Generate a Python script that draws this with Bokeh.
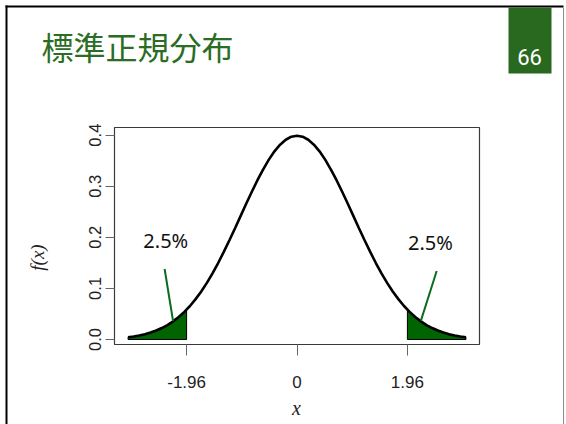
from bokeh.plotting import figure
from bokeh.models import Range1d, FixedTicker, Label, BoxAnnotation, LinearAxis
from bokeh.embed import file_html
from bokeh.resources import INLINE
from bokeh.core.properties import value

# ---------------- data ----------------
title_text = "標準正規分布"
slide_number = "66"

x_vals = [-3.0, -2.9, -2.8, -2.7, -2.6, -2.5, -2.4, -2.3, -2.2, -2.1,
          -2.0, -1.9, -1.8, -1.7, -1.6, -1.5, -1.4, -1.3, -1.2, -1.1,
          -1.0, -0.9, -0.8, -0.7, -0.6, -0.5, -0.4, -0.3, -0.2, -0.1,
          0.0, 0.1, 0.2, 0.3, 0.4, 0.5, 0.6, 0.7, 0.8, 0.9,
          1.0, 1.1, 1.2, 1.3, 1.4, 1.5, 1.6, 1.7, 1.8, 1.9,
          2.0, 2.1, 2.2, 2.3, 2.4, 2.5, 2.6, 2.7, 2.8, 2.9, 3.0]
density = [0.0044, 0.0060, 0.0079, 0.0104, 0.0136, 0.0175, 0.0224, 0.0283, 0.0355, 0.0440,
           0.0540, 0.0656, 0.0790, 0.0940, 0.1109, 0.1295, 0.1497, 0.1714, 0.1942, 0.2179,
           0.2420, 0.2661, 0.2897, 0.3123, 0.3332, 0.3521, 0.3683, 0.3814, 0.3910, 0.3970,
           0.3989, 0.3970, 0.3910, 0.3814, 0.3683, 0.3521, 0.3332, 0.3123, 0.2897, 0.2661,
           0.2420, 0.2179, 0.1942, 0.1714, 0.1497, 0.1295, 0.1109, 0.0940, 0.0790, 0.0656,
           0.0540, 0.0440, 0.0355, 0.0283, 0.0224, 0.0175, 0.0136, 0.0104, 0.0079, 0.0060, 0.0044]

critical_values = [-1.96, 1.96]
critical_density = 0.0584

tail_label = "2.5%"
tail_label_x = [-2.33, 2.37]
tail_label_y = [0.194, 0.190]
pointer_x0 = [-2.35, 2.48]
pointer_y0 = [0.138, 0.134]
pointer_x1 = [-2.20, 2.20]
pointer_y1 = [0.036, 0.037]

x_ticks = [-1.96, 0, 1.96]
x_tick_labels = ["-1.96", "0", "1.96"]
y_ticks = [0.0, 0.1, 0.2, 0.3, 0.4]
y_tick_labels = ["0.0", "0.1", "0.2", "0.3", "0.4"]
x_axis_label = "x"
y_axis_label = "f(x)"

# plot limits (as in the R plot) and where that plot box sits on the slide (px)
xlim = (-3.24, 3.24)
ylim = (-0.0098, 0.415)
W, H = 566, 424
BOX_L, BOX_R, BOX_T, BOX_B = 114, 479, 127, 344

kx = (BOX_R - BOX_L) / (xlim[1] - xlim[0])
ky = (BOX_B - BOX_T) / (ylim[1] - ylim[0])
x_range = Range1d(xlim[0] - BOX_L / kx, xlim[1] + (W - BOX_R) / kx)
y_range = Range1d(ylim[0] - (H - BOX_B) / ky, ylim[1] + BOX_T / ky)

p = figure(width=W, height=H, output_backend="svg", toolbar_location=None,
           x_range=x_range, y_range=y_range,
           x_axis_location=None, y_axis_location=None,
           min_border=0, min_border_left=0, min_border_right=0,
           min_border_top=0, min_border_bottom=0)
p.grid.visible = False
p.background_fill_color = "white"
p.border_fill_color = "white"
p.outline_line_color = None

# R-style plot box
p.quad(left=[xlim[0]], right=[xlim[1]], bottom=[ylim[0]], top=[ylim[1]],
       fill_color=None, line_color="#3a3a3a", line_width=1.2)

# axes pinned to the plot box edges
xa = LinearAxis(fixed_location=ylim[0])
xa.ticker = FixedTicker(ticks=x_ticks)
xa.major_label_overrides = {t: l for t, l in zip(x_ticks, x_tick_labels)}
xa.axis_line_color = None
xa.major_tick_out = 11
xa.major_tick_in = 0
xa.major_tick_line_color = "#666666"
xa.minor_tick_line_color = None
xa.major_label_text_font = "Liberation Sans"
xa.major_label_text_font_size = "17px"
xa.major_label_text_color = "#222222"
xa.major_label_standoff = 20
p.add_layout(xa, "below")

ya = LinearAxis(fixed_location=xlim[0])
ya.ticker = FixedTicker(ticks=y_ticks)
ya.major_label_overrides = {t: l for t, l in zip(y_ticks, y_tick_labels)}
ya.major_label_orientation = "vertical"
ya.axis_line_color = None
ya.major_tick_out = 9
ya.major_tick_in = 0
ya.major_tick_line_color = "#666666"
ya.minor_tick_line_color = None
ya.major_label_text_font = "Liberation Sans"
ya.major_label_text_font_size = "16.5px"
ya.major_label_text_color = "#222222"
ya.major_label_standoff = 4
p.add_layout(ya, "left")

# shaded tails
left_x = [x for x in x_vals if x <= critical_values[0]]
left_y = [y for x, y in zip(x_vals, density) if x <= critical_values[0]]
p.patch(left_x + [critical_values[0], critical_values[0], left_x[0]],
        left_y + [critical_density, 0, 0],
        fill_color="#006400", line_color="black", line_width=1)
right_x = [x for x in x_vals if x >= critical_values[1]]
right_y = [y for x, y in zip(x_vals, density) if x >= critical_values[1]]
p.patch([critical_values[1], critical_values[1]] + right_x + [right_x[-1]],
        [0, critical_density] + right_y + [0],
        fill_color="#006400", line_color="black", line_width=1)

# density curve
p.line(x_vals, density, line_color="black", line_width=2.6)

# pointers and labels
p.segment(x0=pointer_x0, y0=pointer_y0, x1=pointer_x1, y1=pointer_y1,
          line_color="#0b6b1e", line_width=2)
p.text(x=tail_label_x, y=tail_label_y, text=[tail_label, tail_label],
       text_font=value("Noto Sans"), text_font_size="20px", text_color="#111111",
       text_align="center", text_baseline="middle")

# ---------------- slide decorations (screen px; frame == whole canvas) ----------------
def sy(py):
    return H - py


def box(l, r, t, b, color):
    p.add_layout(BoxAnnotation(left=l, right=r, top=sy(t), bottom=sy(b),
                               left_units="screen", right_units="screen",
                               top_units="screen", bottom_units="screen",
                               fill_color=color, fill_alpha=1, line_color=None))


box(5, 7, 5, H, "black")          # left slide edge
box(5, 563, 5, 7, "black")        # top slide edge
box(562.5, 563.5, 7, H, "#8c8c8c")  # right slide edge
box(508, 551, 7, 73, "#28691f")   # page-number box

p.add_layout(Label(x=529, y=sy(56), x_units="screen", y_units="screen", text=slide_number,
                   text_font="Roboto", text_font_size="22px", text_color="white",
                   text_align="center", text_baseline="middle"))
p.add_layout(Label(x=41, y=sy(45), x_units="screen", y_units="screen", text=title_text,
                   text_font="Noto Sans CJK JP", text_font_size="32px", text_color="#2b6d24",
                   text_align="left", text_baseline="middle"))

# axis titles
p.add_layout(Label(x=296, y=sy(407), x_units="screen", y_units="screen", text=x_axis_label,
                   text_font="Liberation Serif", text_font_style="italic", text_font_size="20px",
                   text_color="#222222", text_align="center", text_baseline="middle"))
p.add_layout(Label(x=37, y=sy(257), x_units="screen", y_units="screen", text=y_axis_label,
                   text_font="Liberation Serif", text_font_style="italic", text_font_size="19px",
                   text_color="#222222", text_align="center", text_baseline="middle", angle=1.5708))

open("out.html", "w").write(file_html(p, INLINE))
